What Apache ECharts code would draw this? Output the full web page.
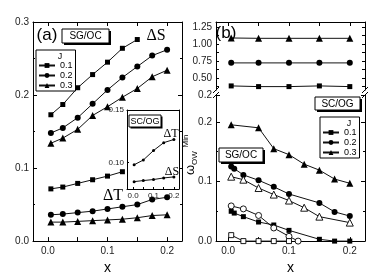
<!DOCTYPE html>
<html><head><meta charset="utf-8">
<script src="https://cdn.jsdelivr.net/npm/echarts@6/dist/echarts.min.js"></script>
<style>html,body{margin:0;padding:0;background:#fff}#c{width:377px;height:280px}</style>
</head><body><div id="c"></div>
<script>
// ---------- DATA ----------
// Panel (a): ΔS and ΔT vs x
const xA = [0.005, 0.025, 0.05, 0.075, 0.1, 0.125, 0.15, 0.175, 0.2];
const dS_J01 = [0.173, 0.187, 0.210, 0.228, 0.245, 0.264, 0.276];
const dS_J02 = [0.148, 0.155, 0.169, 0.188, 0.207, 0.224, 0.239, 0.254, 0.262];
const dS_J03 = [0.134, 0.141, 0.153, 0.172, 0.184, 0.197, 0.209, 0.225, 0.234];
const dT_J01 = [0.0715, 0.074, 0.079, 0.084, 0.089, 0.095];
const dT_J02 = [0.036, 0.037, 0.039, 0.041, 0.044, 0.047, 0.050, 0.057, 0.060];
const dT_J03 = [0.026, 0.026, 0.027, 0.028, 0.029, 0.030, 0.032, 0.035, 0.036];
// Inset (SC/OG)
const xIn = [0.005, 0.05, 0.1, 0.15, 0.2];
const inDT = [0.098, 0.1025, 0.1115, 0.119, 0.122];
const inDS = [0.082, 0.083, 0.084, 0.0855, 0.0865];
// Panel (b) upper (SC/OG)
const xBU = [0.005, 0.05, 0.1, 0.15, 0.2];
const bU_J01 = [0.38, 0.37, 0.37, 0.38, 0.37];
const bU_J02 = [0.72, 0.72, 0.72, 0.72, 0.72];
const bU_J03 = [1.085, 1.08, 1.08, 1.08, 1.08];
// Panel (b) lower (SG/OC), filled
const xBL_J01 = [0.005, 0.01, 0.025, 0.05, 0.075, 0.1, 0.15, 0.175, 0.2];
const bL_J01 = [0.050, 0.047, 0.041, 0.032, 0.027, 0.018, 0.003, 0.0, 0.0];
const xBL_J02 = [0.005, 0.01, 0.025, 0.05, 0.075, 0.1, 0.15, 0.175, 0.2];
const bL_J02 = [0.125, 0.1215, 0.111, 0.102, 0.091, 0.079, 0.064, 0.049, 0.042];
const xBL_J03 = [0.005, 0.05, 0.075, 0.1, 0.125, 0.15, 0.175, 0.2];
const bL_J03 = [0.195, 0.190, 0.155, 0.145, 0.129, 0.119, 0.104, 0.097];
// Panel (b) lower, open symbols
const xOpenTri = [0.005, 0.025, 0.05, 0.075, 0.1, 0.125, 0.15, 0.2];
const openTri = [0.108, 0.103, 0.089, 0.078, 0.068, 0.056, 0.041, 0.031];
const xOpenCirc = [0.005, 0.025, 0.05, 0.075, 0.1, 0.115];
const openCirc = [0.059, 0.054, 0.043, 0.022, 0.008, 0.0];
const xOpenSq = [0.005, 0.025, 0.05, 0.075, 0.1];
const openSq = [0.010, 0.0, 0.0, 0.0, 0.0];
// tick labels
const xTickLabels = [0, 0.1, 0.2];
const xTicks = [0, 0.05, 0.1, 0.15, 0.2];
const bUpperLabels = [0.5, 0.75, 1.0, 1.25];
const bUpperTicks = [0.375, 0.5, 0.625, 0.75, 0.875, 1.0, 1.125, 1.25];
const insetYLabels = [0.10, 0.15];
const legendNames = ['0.1', '0.2', '0.3'];

// ---------- HELPERS ----------
const pairs = (xs, ys) => ys.map((y, i) => [xs[i], y]);
const FONT = 'Liberation Sans, Arial, sans-serif';
const SERIF = 'Liberation Serif, Times New Roman, serif';
const lineS = { color: '#000', width: 1 };
function xAxis(grid, min, max, opts) {
  return Object.assign({
    type: 'value', gridIndex: grid, min: min, max: max,
    axisLine: { show: true, onZero: false, lineStyle: lineS },
    axisTick: { show: true, inside: true, length: 4, customValues: xTicks, lineStyle: lineS },
    axisLabel: { show: false },
    splitLine: { show: false }
  }, opts || {});
}
function yAxis(grid, min, max, opts) {
  return Object.assign({
    type: 'value', gridIndex: grid, min: min, max: max,
    axisLine: { show: true, onZero: false, lineStyle: lineS },
    axisTick: { show: true, inside: true, length: 4, lineStyle: lineS },
    minorTick: { show: false },
    axisLabel: { show: false },
    splitLine: { show: false }
  }, opts || {});
}
const lblX = { show: true, customValues: xTickLabels, formatter: v => v.toFixed(1), fontSize: 10, color: '#222', margin: 5, fontFamily: FONT };
function ser(name, xi, yi, xs, ys, symbol, size, extra) {
  return Object.assign({
    name: name, type: 'line', xAxisIndex: xi, yAxisIndex: yi,
    data: pairs(xs, ys), symbol: symbol, symbolSize: size,
    itemStyle: { color: '#000', borderWidth: 1 }, lineStyle: { color: '#111', width: 1 },
    clip: false, z: 3
  }, extra || {});
}
const openStyle = { itemStyle: { color: '#fff', borderColor: '#000', borderWidth: 0.9 }, z: 4 };
function box(x, y, w, h, text, fs, sh) {
  return [
    { type: 'rect', shape: { x: x + sh, y: y + sh, width: w, height: h }, style: { fill: '#000' }, z: 100 },
    { type: 'rect', shape: { x: x, y: y, width: w, height: h }, style: { fill: '#fff', stroke: '#000', lineWidth: 1 }, z: 101 },
    { type: 'text', x: x + w / 2, y: y + h / 2 + 0.5, style: { text: text, fontSize: fs, fontFamily: FONT, fill: '#000', align: 'center', verticalAlign: 'middle' }, z: 102 }
  ];
}
function txt(x, y, t, fs, fam, extra) {
  return Object.assign({ type: 'text', x: x, y: y, style: { text: t, fontSize: fs, fontFamily: fam || FONT, fill: '#000', align: 'center', verticalAlign: 'middle' }, z: 102 }, extra || {});
}
function slash(x, y) {
  return { type: 'line', shape: { x1: x - 3, y1: y + 3, x2: x + 3, y2: y - 3 }, style: { stroke: '#000', lineWidth: 1 }, z: 102 };
}
const legendBase = { data: legendNames, orient: 'vertical', padding: [11, 3, 1, 2], itemGap: 1, itemWidth: 16, itemHeight: 6,
  borderColor: '#000', borderWidth: 1, backgroundColor: '#fff', textStyle: { fontSize: 9, color: '#000', fontFamily: FONT }, selectedMode: false };

// ---------- OPTION ----------
const option = {
  animation: false,
  backgroundColor: '#fff',
  textStyle: { fontFamily: FONT },
  grid: [
    { left: 33, top: 22, width: 149, height: 225 },                 // 0 panel a
    { left: 216, top: 22, width: 149, height: 68 },                 // 1 panel b upper
    { left: 216, top: 95, width: 149, height: 152 },                // 2 panel b lower
    { left: 127, top: 110, width: 52, height: 79, show: true, backgroundColor: '#fff', borderWidth: 0, z: 5 } // 3 inset
  ],
  xAxis: [
    xAxis(0, -0.025, 0.225, { axisLabel: lblX, name: 'x', nameLocation: 'middle', nameGap: 13, nameTextStyle: { fontSize: 14, fontFamily: FONT, color: '#000' } }),
    xAxis(0, -0.025, 0.225, { position: 'top' }),
    xAxis(1, -0.02, 0.225, { show: false }),
    xAxis(1, -0.02, 0.225, { position: 'top' }),
    xAxis(2, -0.02, 0.225, { axisLabel: lblX, name: 'x', nameLocation: 'middle', nameGap: 13, nameTextStyle: { fontSize: 14, fontFamily: FONT, color: '#000' } }),
    xAxis(3, -0.03, 0.225, { z: 6, axisTick: { show: true, inside: true, length: 2, customValues: xTicks, lineStyle: lineS }, axisLabel: { show: true, customValues: xTickLabels, formatter: v => v.toFixed(1), fontSize: 8, color: '#222', margin: 3 } }),
    xAxis(3, -0.03, 0.225, { position: 'top', z: 6, axisTick: { show: false } })
  ],
  yAxis: [
    yAxis(0, 0, 0.3, { interval: 0.1, minorTick: { show: true, splitNumber: 2, length: 2, lineStyle: lineS }, axisLabel: { show: true, formatter: v => v.toFixed(1), fontSize: 10, color: '#222', margin: 4 } }),
    yAxis(0, 0, 0.3, { interval: 0.1, position: 'right', minorTick: { show: true, splitNumber: 2, length: 2, lineStyle: lineS } }),
    yAxis(1, 0.32, 1.32, { axisTick: { show: true, inside: true, length: 3, customValues: bUpperTicks, lineStyle: lineS }, axisLabel: { show: true, customValues: bUpperLabels, formatter: v => v.toFixed(2), fontSize: 10, color: '#222', margin: 4 } }),
    yAxis(1, 0.32, 1.32, { position: 'right', axisTick: { show: true, inside: true, length: 3, customValues: bUpperTicks, lineStyle: lineS } }),
    yAxis(2, 0, 0.245, { interval: 0.1, minorTick: { show: true, splitNumber: 2, length: 2, lineStyle: lineS }, axisLabel: { show: true, formatter: v => v.toFixed(1), fontSize: 10, color: '#222', margin: 4 } }),
    yAxis(2, 0, 0.245, { interval: 0.1, position: 'right', minorTick: { show: true, splitNumber: 2, length: 2, lineStyle: lineS } }),
    yAxis(3, 0.075, 0.15, { z: 6, axisTick: { show: true, inside: true, length: 2, customValues: [0.1, 0.15], lineStyle: lineS }, axisLabel: { show: true, customValues: insetYLabels, formatter: v => v.toFixed(2), fontSize: 8, color: '#222', margin: 3 } }),
    yAxis(3, 0.075, 0.15, { position: 'right', z: 6, axisTick: { show: false } })
  ],
  legend: [
    Object.assign({}, legendBase, { left: 36, top: 50 }),
    Object.assign({}, legendBase, { left: 320, top: 117 })
  ],
  series: [
    ser('0.1', 0, 0, xA, dS_J01, 'rect', 5),
    ser('0.2', 0, 0, xA, dS_J02, 'circle', 6),
    ser('0.3', 0, 0, xA, dS_J03, 'triangle', 7),
    ser('0.1', 0, 0, xA, dT_J01, 'rect', 5),
    ser('0.2', 0, 0, xA, dT_J02, 'circle', 6),
    ser('0.3', 0, 0, xA, dT_J03, 'triangle', 7),
    ser('inDT', 5, 6, xIn, inDT, 'circle', 3, { z: 7 }),
    ser('inDS', 5, 6, xIn, inDS, 'circle', 3, { z: 7 }),
    ser('0.1', 2, 2, xBU, bU_J01, 'rect', 5),
    ser('0.2', 2, 2, xBU, bU_J02, 'circle', 6, { lineStyle: { color: '#444', width: 1.3 } }),
    ser('0.3', 2, 2, xBU, bU_J03, 'triangle', 7),
    ser('0.1', 4, 4, xBL_J01, bL_J01, 'rect', 5),
    ser('0.2', 4, 4, xBL_J02, bL_J02, 'circle', 6),
    ser('0.3', 4, 4, xBL_J03, bL_J03, 'triangle', 7),
    ser('o0.3', 4, 4, xOpenTri, openTri, 'triangle', 7, openStyle),
    ser('o0.2', 4, 4, xOpenCirc, openCirc, 'circle', 6, openStyle),
    ser('o0.1', 4, 4, xOpenSq, openSq, 'rect', 5, openStyle)
  ],
  graphic: [
    txt(47, 35, '(a)', 17),
    ...box(62, 29, 47, 14, 'SG/OC', 10, 2),
    txt(156, 36, 'ΔS', 16, SERIF),
    txt(113, 196, 'ΔT', 16, SERIF),
    ...box(129, 115, 32, 12, 'SC/OG', 9, 1.5),
    txt(171, 134, 'ΔT', 12, SERIF),
    txt(172, 172, 'ΔS', 12, SERIF),
    txt(226, 33, '(b)', 17),
    ...box(315, 97, 45, 13, 'SC/OG', 10, 2),
    ...box(219, 148, 44, 14, 'SG/OC', 10, 2),
    txt(60, 57, 'J', 9),
    txt(349, 124, 'J', 9),
    txt(190, 170, 'ω', 13, FONT, { rotation: Math.PI / 2 }),
    txt(195, 158, 'OW', 8, FONT, { rotation: Math.PI / 2 }),
    txt(186, 141, 'Min', 8, FONT, { rotation: Math.PI / 2 }),
    slash(216, 90), slash(216, 95), slash(365, 90), slash(365, 95)
  ]
};
const chart = echarts.init(document.getElementById('c'), null, { renderer: 'canvas' });
chart.setOption(option);
</script></body></html>
